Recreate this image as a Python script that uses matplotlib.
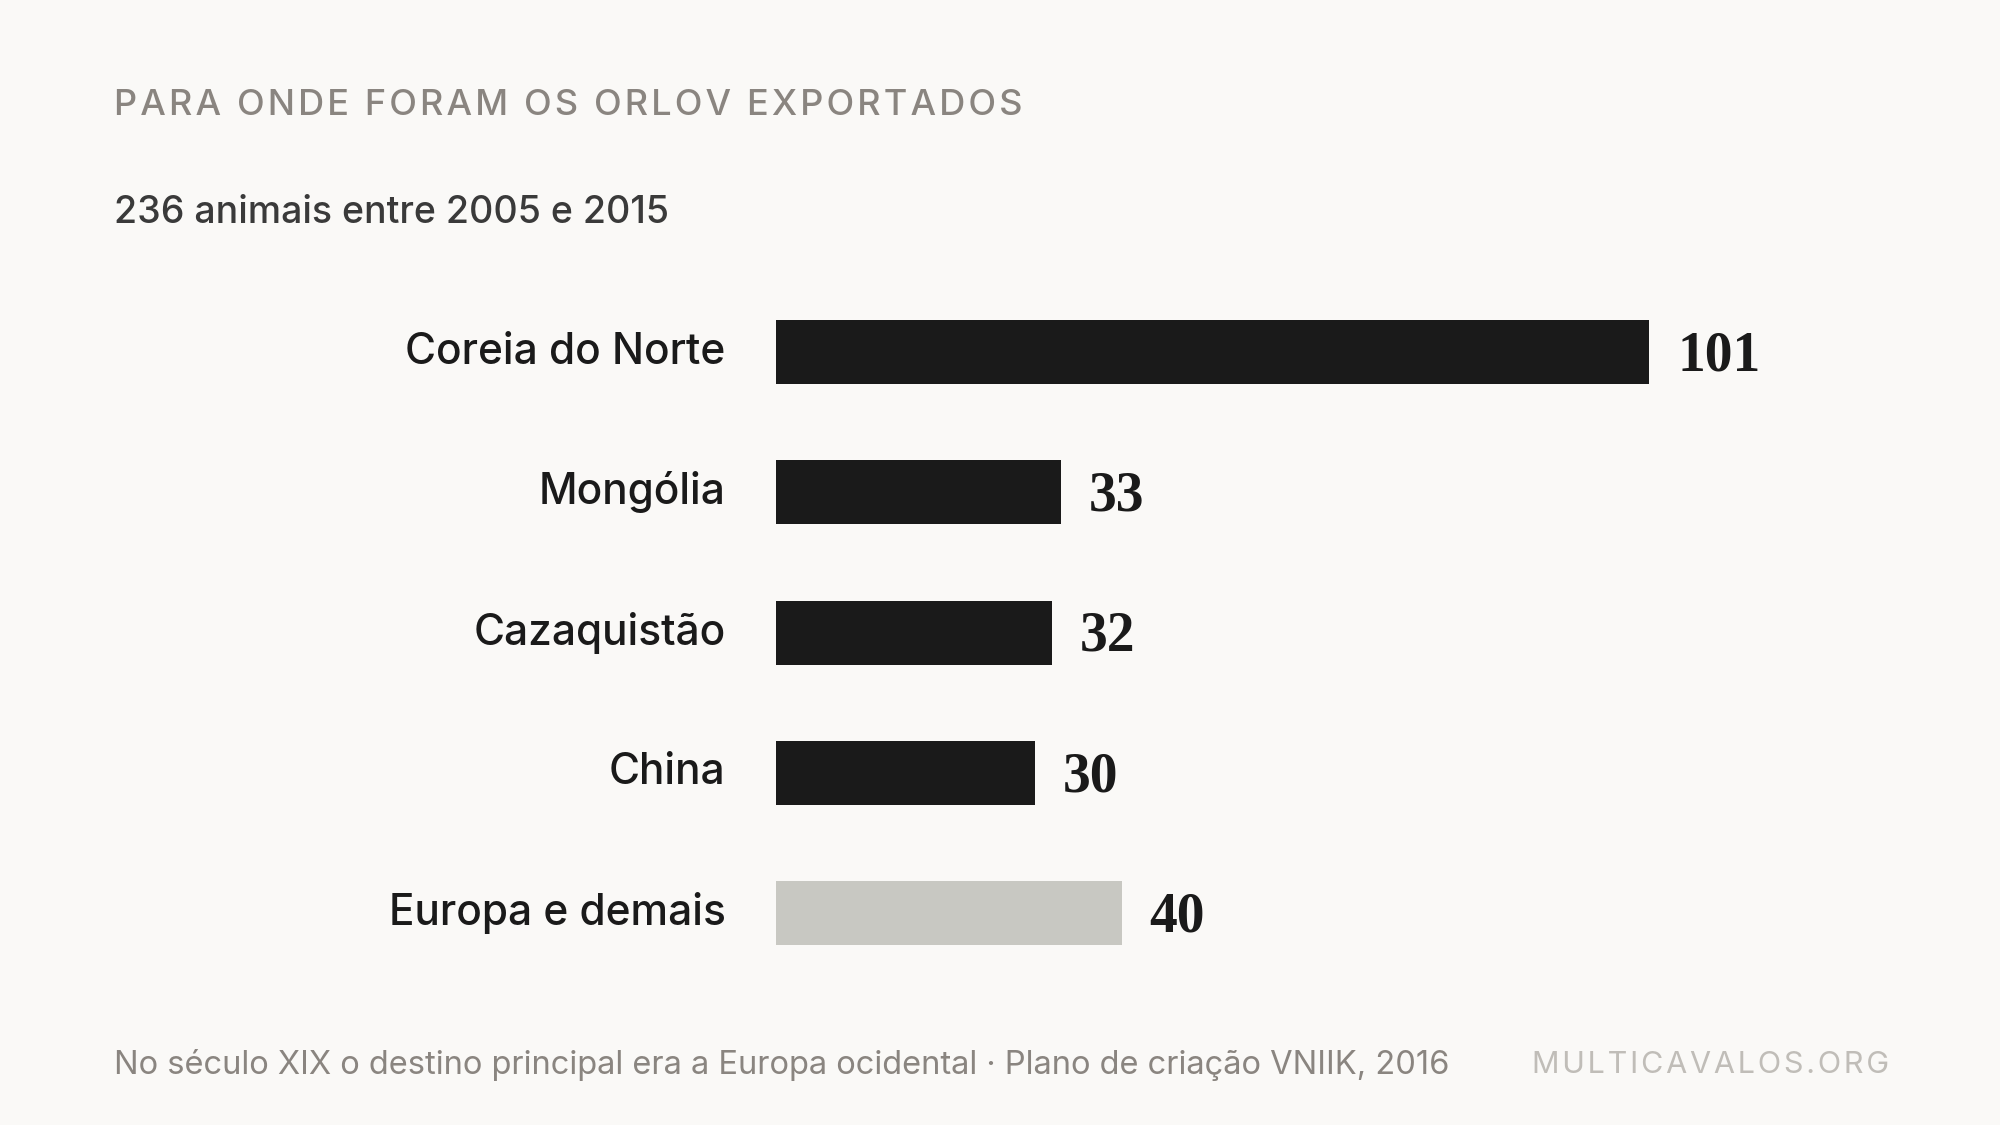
import matplotlib
matplotlib.use("Agg")
import matplotlib.pyplot as plt

categories = ["Coreia do Norte", "Mongólia", "Cazaquistão", "China", "Europa e demais"]
values = [101, 33, 32, 30, 40]
colors = ["#1a1a1a", "#1a1a1a", "#1a1a1a", "#1a1a1a", "#c8c8c2"]

title = "PARA ONDE FORAM OS ORLOV EXPORTADOS"
subtitle = "236 animais entre 2005 e 2015"
footer = "No século XIX o destino principal era a Europa ocidental · Plano de criação VNIIK, 2016"
brand = "MULTICAVALOS.ORG"

bg = "#faf9f7"
fig = plt.figure(figsize=(20, 11.25), dpi=100, facecolor=bg)
W, H = 1568, 882
ax = fig.add_axes([608/W, 1-771/H, (1490-608)/W, (771-221)/H], facecolor=bg)
y = list(range(len(categories)))
ax.barh(y, values, height=50/110, color=colors)
ax.set_xlim(0, (1490-608)/(685/101))
ax.set_ylim(len(categories)-0.5, -0.5)
ax.axis("off")
for i, (c, v) in enumerate(zip(categories, values)):
    ax.annotate(c, (0, i), xytext=(-36, 0), textcoords="offset points",
                ha="right", va="center", fontsize=30.5, family="Inter",
                fontweight="medium", color="#1a1a1a")
    ax.annotate(str(v), (v, i), xytext=(20, -3), textcoords="offset points",
                ha="left", va="center", fontsize=40, family="Liberation Serif",
                fontweight="bold", color="#1a1a1a")

spaced = "\u200a".join(title)
fig.text(89/W, 1-83/H, spaced, fontsize=26, family="Inter", fontweight="medium",
         color="#8a8580", va="center")
fig.text(89/W, 1-167/H, subtitle, fontsize=27, family="Inter", fontweight="medium",
         color="#3a3a3a", va="center")
fig.text(89/W, 1-835/H, footer, fontsize=23.5, family="Inter", color="#8a8580", va="center")
fig.text(1481/W, 1-835/H, "\u200a".join(brand), fontsize=22, family="Inter", color="#c0bdb8",
         va="center", ha="right")
fig.savefig("out.png", facecolor=bg)
